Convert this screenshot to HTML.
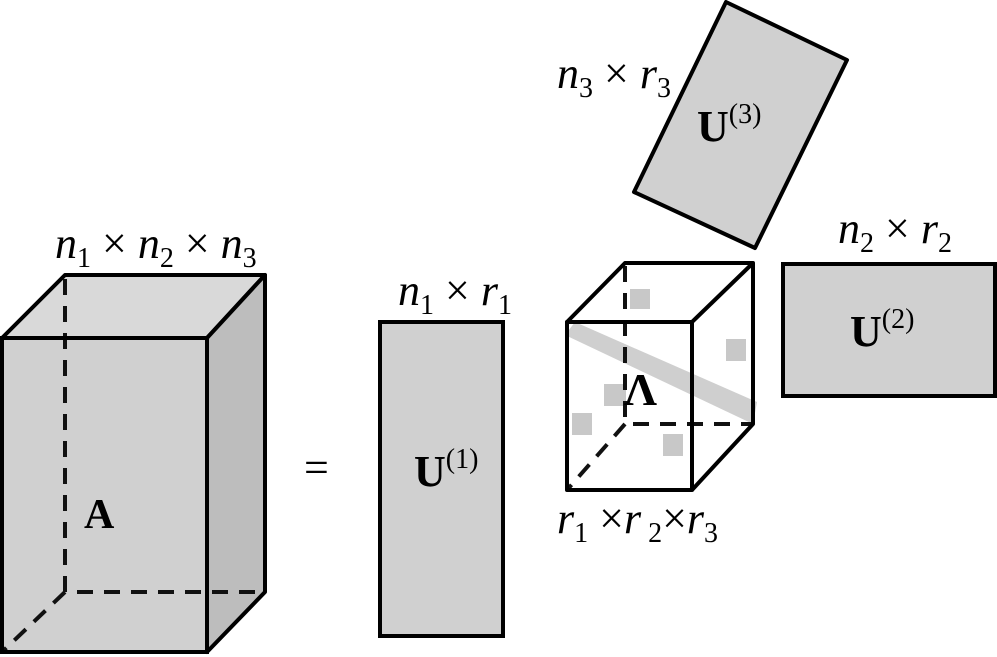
<!DOCTYPE html>
<html><head><meta charset="utf-8"><style>
html,body{margin:0;padding:0;background:#fff;width:997px;height:657px;overflow:hidden}
</style></head><body>
<svg width="997" height="657" viewBox="0 0 997 657" xmlns="http://www.w3.org/2000/svg" font-family="'Liberation Serif','Times New Roman',Times,serif">
<polygon points="2,338 65,275 265,275 207,338" fill="#d9d9d9" stroke="#000" stroke-width="4" stroke-linejoin="round"/>
<polygon points="207,338 265,275 265,592 207,652" fill="#bdbdbd" stroke="#000" stroke-width="4" stroke-linejoin="round"/>
<rect x="2" y="338" width="205" height="314" fill="#d0d0d0"/>
<g stroke="#111" stroke-width="4" stroke-dasharray="16,11" fill="none">
<line x1="65" y1="279" x2="65" y2="592"/>
<line x1="77" y1="592" x2="265" y2="592"/>
<line x1="65" y1="592" x2="2" y2="652"/>
</g>
<rect x="2" y="338" width="205" height="314" fill="none" stroke="#000" stroke-width="4"/>
<text x="84" y="528" font-size="42" font-weight="bold">A</text>
<text x="55" y="258" font-size="44" font-style="italic">n<tspan font-size="28" font-style="normal" dy="9">1</tspan><tspan dy="-9" font-style="normal"> × </tspan>n<tspan font-size="28" font-style="normal" dy="9">2</tspan><tspan dy="-9" font-style="normal"> × </tspan>n<tspan font-size="28" font-style="normal" dy="9">3</tspan></text>
<text x="304" y="482" font-size="44">=</text>
<rect x="380" y="322" width="123" height="314" fill="#d0d0d0" stroke="#000" stroke-width="4"/>
<text x="398" y="305" font-size="44" font-style="italic">n<tspan font-size="28" font-style="normal" dy="9">1</tspan><tspan dy="-9" font-style="normal"> × </tspan>r<tspan font-size="28" font-style="normal" dy="9">1</tspan></text>
<text x="414" y="486" font-size="44" font-weight="bold">U<tspan font-size="28" font-weight="normal" dy="-18">(1)</tspan></text>
<polygon points="565,335 575,322 757,402 753,424" fill="#cfcfcf"/>
<g fill="#c8c8c8">
<rect x="630" y="289" width="20" height="20"/>
<rect x="726" y="339" width="20" height="22"/>
<rect x="604" y="384" width="22" height="22"/>
<rect x="572" y="413" width="20" height="22"/>
<rect x="663" y="434" width="20" height="22"/>
</g>
<g stroke="#111" stroke-width="4" stroke-dasharray="16,11" fill="none">
<line x1="625" y1="266" x2="625" y2="424"/>
<line x1="633" y1="424" x2="753" y2="424"/>
<line x1="625" y1="424" x2="567" y2="490"/>
</g>
<g stroke="#000" stroke-width="4" fill="none" stroke-linejoin="round">
<polygon points="567,322 625,263 753,263 692,322"/>
<polyline points="753,263 753,424 692,490"/>
<rect x="567" y="322" width="125" height="168"/>
</g>
<text x="624" y="405" font-size="46" font-weight="bold">Λ</text>
<text x="557" y="533" font-size="44" font-style="italic">r<tspan font-size="28" font-style="normal" dy="9">1</tspan><tspan dy="-9" font-style="normal"> ×</tspan>r<tspan font-size="28" font-style="normal" dy="9"> 2</tspan><tspan dy="-9" font-style="normal">×</tspan>r<tspan font-size="28" font-style="normal" dy="9">3</tspan></text>
<polygon points="726,2 847,60 755,248 634,192" fill="#d0d0d0" stroke="#000" stroke-width="4" stroke-linejoin="round"/>
<text x="697" y="141" font-size="44" font-weight="bold">U<tspan font-size="28" font-weight="normal" dy="-18">(3)</tspan></text>
<text x="557" y="88" font-size="44" font-style="italic">n<tspan font-size="28" font-style="normal" dy="9">3</tspan><tspan dy="-9" font-style="normal"> × </tspan>r<tspan font-size="28" font-style="normal" dy="9">3</tspan></text>
<rect x="783" y="264" width="212" height="132" fill="#d0d0d0" stroke="#000" stroke-width="4"/>
<text x="838" y="243" font-size="44" font-style="italic">n<tspan font-size="28" font-style="normal" dy="9">2</tspan><tspan dy="-9" font-style="normal"> × </tspan>r<tspan font-size="28" font-style="normal" dy="9">2</tspan></text>
<text x="850" y="346" font-size="44" font-weight="bold">U<tspan font-size="28" font-weight="normal" dy="-18">(2)</tspan></text>
</svg>
</body></html>
